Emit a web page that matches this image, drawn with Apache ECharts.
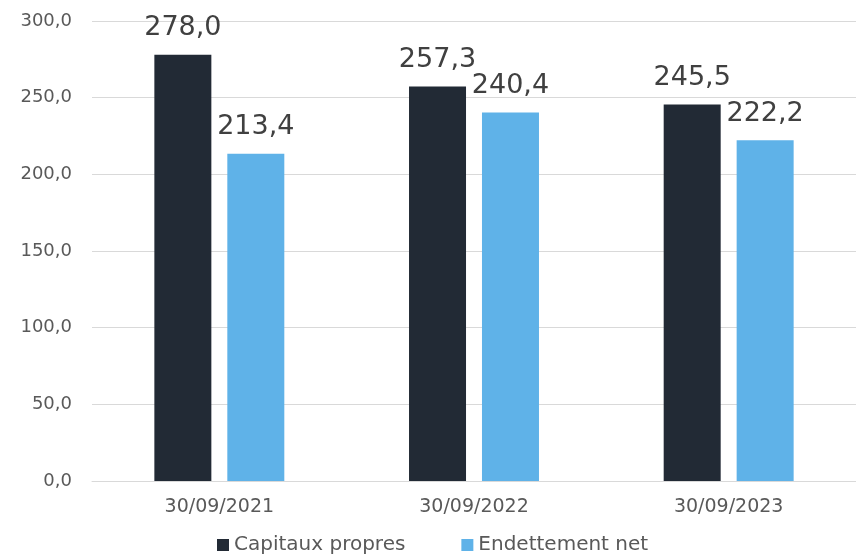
<!DOCTYPE html>
<html><head><meta charset="utf-8">
<script src="https://cdn.jsdelivr.net/npm/echarts@6/dist/echarts.min.js"></script>
<style>html,body{margin:0;padding:0;background:#fff}#c{width:856px;height:560px}</style>
</head><body><div id="c"></div>
<script>
const categories = ['30/09/2021', '30/09/2022', '30/09/2023'];
const capitauxPropres = [278.0, 257.3, 245.5];
const endettementNet = [213.4, 240.4, 222.2];
const seriesNames = ['Capitaux propres', 'Endettement net'];
const yTicks = { min: 0, max: 300, interval: 50 };

const fmt = v => v.toFixed(1).replace('.', ',');
const font = '"DejaVu Sans", sans-serif';
const chart = echarts.init(document.getElementById('c'));
const lbl = {
  show: true, position: 'top', distance: 13,
  fontFamily: font, fontSize: 27, color: '#404040',
  formatter: p => fmt(p.value)
};
chart.setOption({
  animation: false,
  grid: { left: 92, right: -1, top: 21, bottom: 79, containLabel: false },
  legend: {
    bottom: 0, left: 212, itemWidth: 12, itemHeight: 12, itemGap: 56,
    icon: 'rect',
    textStyle: { fontFamily: font, fontSize: 20, color: '#595959' },
    data: seriesNames
  },
  xAxis: {
    type: 'category', data: categories,
    axisLine: { lineStyle: { color: '#d9d9d9', width: 1 } },
    axisTick: { show: false },
    axisLabel: { fontFamily: font, fontSize: 19, color: '#595959', margin: 17 }
  },
  yAxis: {
    type: 'value', min: yTicks.min, max: yTicks.max, interval: yTicks.interval,
    axisLine: { show: false }, axisTick: { show: false },
    splitLine: { lineStyle: { color: '#d9d9d9', width: 1 } },
    axisLabel: { fontFamily: font, fontSize: 18, color: '#595959', margin: 20, formatter: v => fmt(v) }
  },
  series: [
    { name: seriesNames[0], type: 'bar', data: capitauxPropres, barWidth: 57, barGap: '28%',
      itemStyle: { color: '#222a35' }, label: lbl },
    { name: seriesNames[1], type: 'bar', data: endettementNet, barWidth: 57,
      itemStyle: { color: '#5fb2e8' }, label: lbl }
  ]
});
</script></body></html>
